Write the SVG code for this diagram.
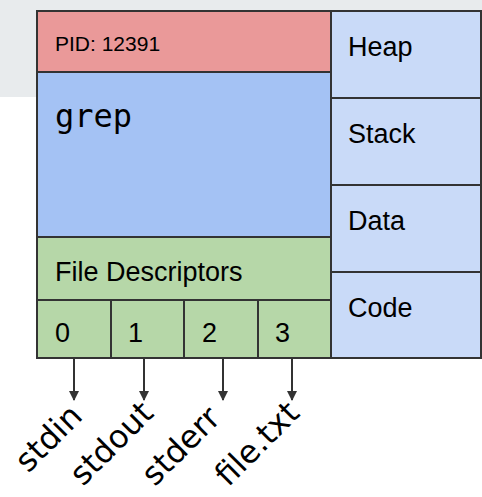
<svg xmlns="http://www.w3.org/2000/svg" width="482" height="497" viewBox="0 0 482 497">
<defs>
<marker id="ah" viewBox="0 0 10 10" refX="9" refY="5" markerWidth="5" markerHeight="5" orient="auto" markerUnits="strokeWidth">
<path d="M0,0 L10,5 L0,10 z" fill="#333"/>
</marker>
</defs>
<style>
.box{stroke:#333;stroke-width:2}
.t{font-family:"Liberation Sans",Arial,sans-serif;fill:#000}
.lbl{font-family:"DejaVu Sans",Verdana,sans-serif;font-size:32px;fill:#000}
.conn{stroke:#333;stroke-width:2;fill:none}
</style>
<rect x="0" y="0" width="482" height="97" fill="#e8ebed"/>
<g id="pid"><rect class="box" x="37" y="11" width="294" height="61" fill="#ea9999"/><text class="t" x="55" y="51" font-size="21">PID: 12391</text></g>
<g id="grep"><rect class="box" x="37" y="72" width="294" height="165" fill="#a4c2f4"/><text x="55" y="127" font-family="'DejaVu Sans Mono',monospace" font-size="32">grep</text></g>
<g id="fd"><rect class="box" x="37" y="237" width="294" height="63" fill="#b6d7a8"/><text class="t" x="55" y="281" font-size="27">File Descriptors</text></g>
<g id="fd0"><rect class="box" x="37" y="300" width="74" height="58" fill="#b6d7a8"/><text class="t" x="55" y="342" font-size="27">0</text></g>
<g id="fd1"><rect class="box" x="111" y="300" width="73" height="58" fill="#b6d7a8"/><text class="t" x="128" y="342" font-size="27">1</text></g>
<g id="fd2"><rect class="box" x="184" y="300" width="74" height="58" fill="#b6d7a8"/><text class="t" x="202" y="342" font-size="27">2</text></g>
<g id="fd3"><rect class="box" x="258" y="300" width="73" height="58" fill="#b6d7a8"/><text class="t" x="275" y="342" font-size="27">3</text></g>
<g id="heap"><rect class="box" x="331" y="11" width="150" height="87" fill="#c9daf8"/><text class="t" x="348" y="56" font-size="27">Heap</text></g>
<g id="stack"><rect class="box" x="331" y="98" width="150" height="87" fill="#c9daf8"/><text class="t" x="348" y="143" font-size="27">Stack</text></g>
<g id="data"><rect class="box" x="331" y="185" width="150" height="87" fill="#c9daf8"/><text class="t" x="348" y="230" font-size="27">Data</text></g>
<g id="code"><rect class="box" x="331" y="272" width="150" height="86" fill="#c9daf8"/><text class="t" x="348" y="317" font-size="27">Code</text></g>
<g id="connectors">
<line class="conn" x1="74" y1="359" x2="74" y2="400" marker-end="url(#ah)"/>
<line class="conn" x1="144" y1="359" x2="144" y2="400" marker-end="url(#ah)"/>
<line class="conn" x1="223" y1="359" x2="223" y2="400" marker-end="url(#ah)"/>
<line class="conn" x1="292" y1="359" x2="292" y2="400" marker-end="url(#ah)"/>
</g>
<g id="stdin"><text class="lbl" text-anchor="end" transform="translate(84,418) rotate(-45)">stdin</text></g>
<g id="stdout"><text class="lbl" text-anchor="end" transform="translate(155,415) rotate(-45)">stdout</text></g>
<g id="stderr"><text class="lbl" text-anchor="end" transform="translate(222,420) rotate(-45)">stderr</text></g>
<g id="filetxt"><text class="lbl" text-anchor="end" transform="translate(301,415) rotate(-45)">file.txt</text></g>
</svg>
